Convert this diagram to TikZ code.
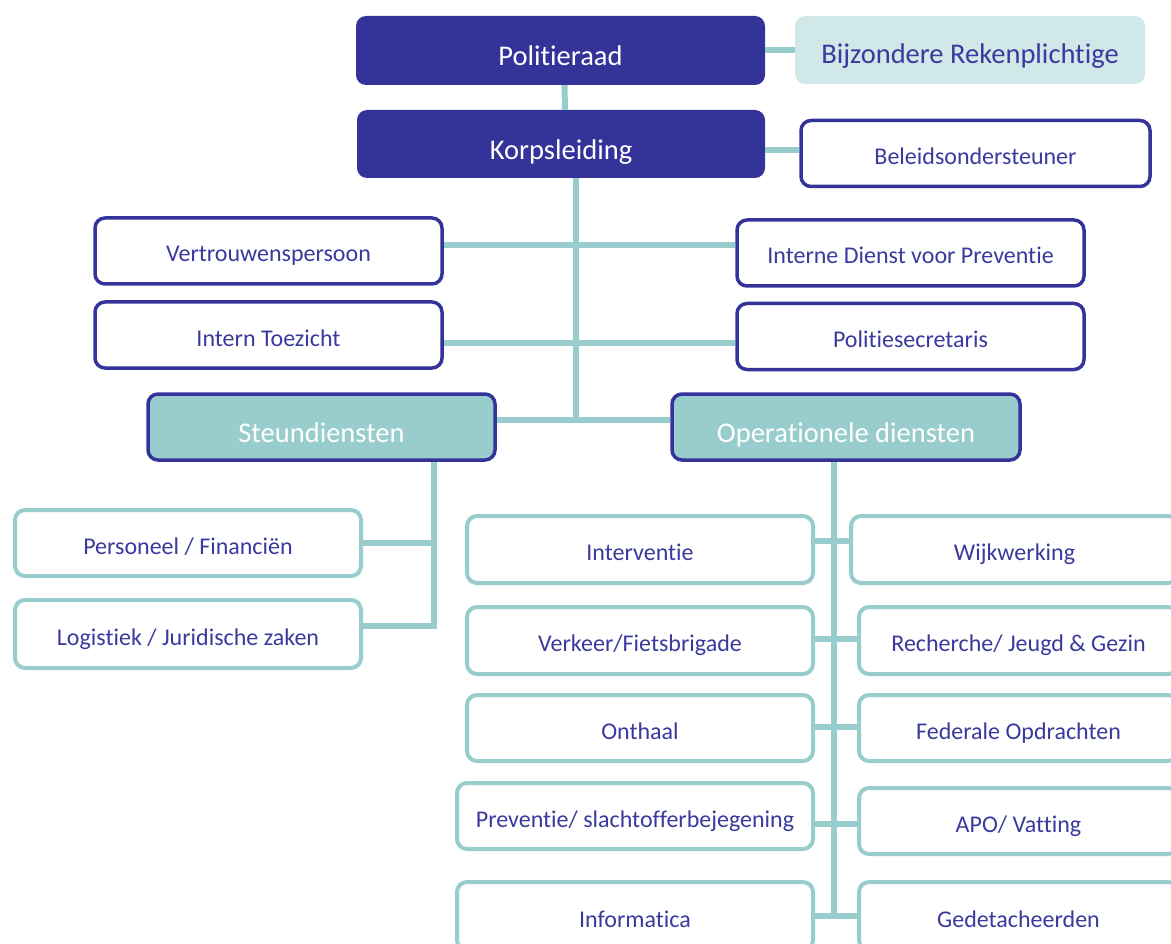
\documentclass[tikz,border=0pt]{standalone}
\usepackage{fontspec}
\setmainfont{Carlito}[Ligatures=NoCommon]
\usetikzlibrary{positioning}
\definecolor{dkblue}{HTML}{343399}
\definecolor{tealc}{HTML}{99CCCC}
\definecolor{paleteal}{HTML}{D0E8E8}
\definecolor{txtblue}{HTML}{3A3A9E}
\newcommand{\bigtxt}{\fontsize{28.5}{32}\selectfont}
\newcommand{\smalltxt}{\fontsize{24}{28}\selectfont}
\tikzset{
  box/.style={rectangle, rounded corners=10pt, minimum height=66pt, inner sep=0pt, text depth=0pt},
  headbox/.style={box, fill=dkblue, text=white, font=\bigtxt, text height=31pt},
  palebox/.style={box, fill=paleteal, text=txtblue, font=\bigtxt, text height=28pt},
  bluebox/.style={box, draw=dkblue, line width=3.5pt, fill=white, text=txtblue, font=\smalltxt, text height=22pt},
  groupbox/.style={box, draw=dkblue, line width=3.5pt, fill=tealc, text=white, font=\bigtxt, text height=31pt},
  unitbox/.style={box, draw=tealc, line width=4pt, fill=white, text=txtblue, font=\smalltxt, text height=22pt},
  link/.style={draw=tealc, line width=6pt}
}

\begin{document}
\begin{tikzpicture}[x=1pt,y=-1pt]
  \useasboundingbox (0,0) rectangle (1171,944);
  \clip (0,0) rectangle (1171,944);
  % top
  \node[headbox, minimum width=409pt, minimum height=69pt] (pol) at (560.5,50.5) {Politieraad};
  \node[palebox, minimum width=350pt, minimum height=68pt] (bij) at (970,50) {Bijzondere Rekenplichtige};
  \node[headbox, minimum width=408pt, minimum height=68pt] (korps) at (561,144) {Korpsleiding};
  \node[bluebox, minimum width=349pt] (beleid) at (975.5,153.5) {Beleidsondersteuner};
  % staff
  \node[bluebox, minimum width=347pt] (vert) at (268.5,251) {Vertrouwenspersoon};
  \node[bluebox, minimum width=347pt] (idp) at (910.5,253) {Interne Dienst voor Preventie};
  \node[bluebox, minimum width=347pt] (toez) at (268.5,335) {Intern Toezicht};
  \node[bluebox, minimum width=347pt] (psec) at (910.5,336.5) {Politiesecretaris};
  % groups
  \node[groupbox, minimum width=347pt] (steun) at (321.5,427) {Steundiensten};
  \node[groupbox, minimum width=348pt] (ops) at (846,427) {Operationele diensten};
  % support services
  \node[unitbox, minimum width=346pt] (pers) at (188,543) {Personeel / Financiën};
  \node[unitbox, minimum width=346pt, minimum height=68pt] (logi) at (188,634) {Logistiek / Juridische zaken};
  % operational services
  \node[unitbox, minimum width=346pt, minimum height=67pt] (interv) at (640,549.5) {Interventie};
  \node[unitbox, minimum width=346pt, minimum height=67pt] (verk) at (640,640.5) {Verkeer/Fietsbrigade};
  \node[unitbox, minimum width=346pt] (onth) at (640,728) {Onthaal};
  \node[unitbox, minimum width=356pt] (prev) at (635,816) {Preventie/ slachtofferbejegening};
  \node[unitbox, minimum width=356pt, minimum height=68pt] (info) at (635,916) {Informatica};
  \node[unitbox, minimum width=327pt, minimum height=67pt] (wijk) at (1014.5,549.5) {Wijkwerking};
  \node[unitbox, minimum width=319pt, minimum height=67pt] (rech) at (1018.5,640.5) {Recherche/ Jeugd \& Gezin};
  \node[unitbox, minimum width=319pt] (fed) at (1018.5,728) {Federale Opdrachten};
  \node[unitbox, minimum width=319pt] (apo) at (1018.5,821) {APO/ Vatting};
  \node[unitbox, minimum width=319pt, minimum height=68pt] (ged) at (1018.5,916) {Gedetacheerden};
  % connectors
  \coordinate (trunk) at (576,420);
  \coordinate (sbot) at (434,626);
  \coordinate (obot) at (834,916);
  \draw[link] (pol.east) -- (pol.east -| bij.west);
  \draw[link] ([xshift=4pt]pol.south) -- ([xshift=4pt]korps.north);
  \draw[link] ([yshift=3pt]beleid.west -| korps.east) -- ([yshift=3pt]beleid.west);
  \draw[link] (trunk |- korps.south) -- (trunk);
  \draw[link] ([yshift=6pt]vert.east) -- ([yshift=6pt]vert.east -| idp.west);
  \draw[link] ([yshift=-8pt]toez.east) -- ([yshift=-8pt]toez.east -| psec.west);
  \draw[link] (steun.east |- trunk) -- (ops.west |- trunk);
  \draw[link] (sbot |- steun.south) -- (sbot) -- (logi.east |- sbot);
  \draw[link] (pers.east) -- (pers.east -| sbot);
  \draw[link] (obot |- ops.south) -- (obot);
  \foreach \l/\r/\y in {interv/wijk/541, verk/rech/639, onth/fed/727, prev/apo/824, info/ged/916}
    \draw[link] (\l.east |- 0,\y) -- (\r.west |- 0,\y);
\end{tikzpicture}
\end{document}
